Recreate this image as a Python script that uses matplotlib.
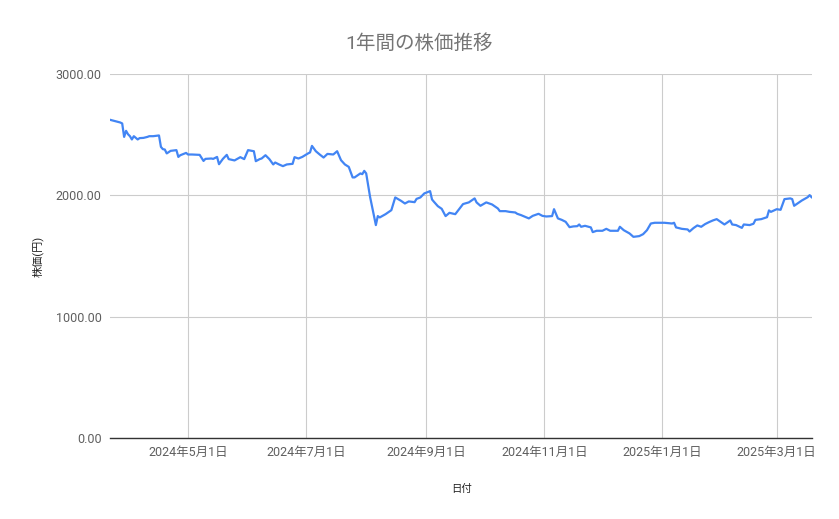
import pandas as pd
import matplotlib
matplotlib.use("Agg")
import matplotlib.pyplot as plt

plt.rcParams['font.family'] = ['Roboto', 'Noto Sans CJK JP', 'DejaVu Sans']

# values: days since the first data point, and price (yen)
start_date = "2024-03-22"
day_offsets = [
    0, 5, 6, 7, 8, 9, 10, 11, 12, 14, 15, 17, 19, 20, 22, 25, 26, 27, 28, 29,
    30, 31, 34, 35, 36, 39, 40, 42, 46, 48, 49, 52, 53, 55, 56, 58, 60, 61, 64, 67,
    69, 71, 74, 75, 77, 78, 80, 82, 84, 85, 87, 89, 91, 94, 95, 97, 99, 102, 103, 104,
    106, 108, 110, 112, 115, 117, 119, 121, 123, 125, 126, 129, 130, 131, 132, 134, 137, 138, 139, 142,
    145, 147, 150, 152, 154, 157, 158, 160, 162, 164, 165, 166, 167, 169, 171, 173, 175, 178, 182, 183,
    185, 188, 189, 191, 194, 197, 200, 201, 204, 206, 209, 210, 212, 216, 218, 221, 223, 225, 228, 229,
    231, 233, 235, 237, 239, 241, 242, 243, 245, 248, 249, 251, 254, 256, 258, 262, 263, 265, 268, 270,
    273, 275, 277, 279, 281, 286, 290, 291, 292, 295, 298, 299, 301, 303, 305, 307, 309, 311, 313, 315,
    317, 320, 321, 323, 326, 327, 330, 332, 333, 336, 339, 340, 341, 344, 346, 348, 351, 352, 353, 355,
    357, 360, 361, 362,
]
prices = [
    2623, 2602, 2594, 2483, 2533, 2505, 2489, 2462, 2489, 2462, 2473, 2475, 2483, 2489, 2489, 2495, 2401, 2382, 2379, 2347,
    2357, 2368, 2374, 2318, 2332, 2351, 2338, 2338, 2335, 2285, 2302, 2305, 2302, 2318, 2258, 2302, 2335, 2300, 2289, 2316,
    2300, 2374, 2365, 2283, 2300, 2305, 2332, 2300, 2256, 2272, 2256, 2242, 2256, 2261, 2316, 2305, 2318, 2347, 2355, 2409,
    2365, 2338, 2313, 2343, 2338, 2365, 2291, 2256, 2236, 2149, 2149, 2182, 2176, 2203, 2182, 1989, 1756, 1830, 1819, 1846,
    1879, 1984, 1956, 1934, 1951, 1945, 1972, 1984, 2017, 2030, 2036, 1967, 1948, 1912, 1890, 1830, 1857, 1846, 1929, 1934,
    1943, 1976, 1943, 1915, 1943, 1926, 1893, 1871, 1871, 1865, 1860, 1849, 1838, 1811, 1832, 1849, 1832, 1827, 1830, 1887,
    1811, 1799, 1783, 1739, 1745, 1747, 1761, 1742, 1750, 1737, 1698, 1709, 1709, 1725, 1709, 1709, 1742, 1714, 1687, 1659,
    1665, 1681, 1714, 1769, 1775, 1775, 1769, 1775, 1737, 1725, 1720, 1703, 1731, 1753, 1742, 1764, 1780, 1794, 1805, 1783,
    1761, 1794, 1761, 1756, 1733, 1761, 1756, 1767, 1799, 1805, 1821, 1877, 1865, 1887, 1882, 1970, 1976, 1970, 1915, 1937,
    1959, 1986, 2003, 1986,
]
month_ticks = ["2024-05-01", "2024-07-01", "2024-09-01", "2024-11-01", "2025-01-01", "2025-03-01"]
month_labels = ["2024年5月1日", "2024年7月1日", "2024年9月1日", "2024年11月1日", "2025年1月1日", "2025年3月1日"]
y_ticks = [0, 1000, 2000, 3000]

dates = pd.Timestamp(start_date) + pd.to_timedelta(day_offsets, unit="D")

fig = plt.figure(figsize=(8.39, 5.19), dpi=100)
ax = fig.add_axes([0.1311, 0.156, 0.8369, 0.701])

ax.plot(dates, prices, color='#4285F4', linewidth=1.6, solid_joinstyle='round')

ax.set_xlim(pd.Timestamp(start_date) - pd.Timedelta(days=0.3), pd.Timestamp(start_date) + pd.Timedelta(days=362.3))
ax.set_ylim(0, 3000)
ax.set_yticks(y_ticks)
ax.set_yticklabels([f"{v:.2f}" for v in y_ticks])
ax.set_xticks(pd.to_datetime(month_ticks))
ax.set_xticklabels(month_labels)

ax.grid(True, color='#cccccc', linewidth=0.8)
ax.set_axisbelow(True)
for side in ['top', 'right', 'left']:
    ax.spines[side].set_visible(False)
ax.spines['bottom'].set_color('#333333')
ax.spines['bottom'].set_linewidth(1.0)
ax.tick_params(axis='both', length=0, labelsize=9, labelcolor='#5f5f5f')
ax.tick_params(axis='y', pad=6)
ax.tick_params(axis='x', pad=6)

ax.set_xlabel("日付", fontsize=7.5, color='#222222', labelpad=18)
ax.set_ylabel("株価(円)", fontsize=8, color='#222222', labelpad=9)
fig.suptitle("1年間の株価推移", x=0.5, y=0.935, fontsize=14, color='#757575')

fig.savefig("out.png", dpi=100)
